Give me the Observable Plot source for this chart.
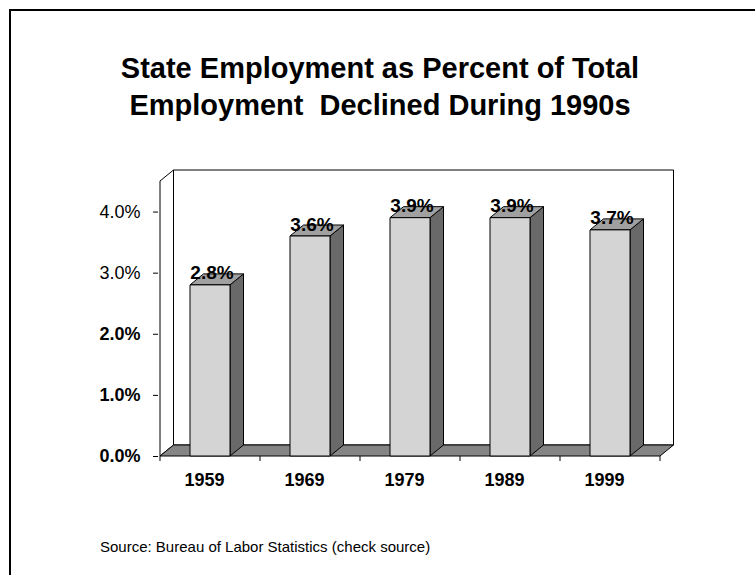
<!DOCTYPE html>
<html>
<head>
<meta charset="utf-8">
<script src="https://cdn.jsdelivr.net/npm/d3@7"></script>
<script src="https://cdn.jsdelivr.net/npm/@observablehq/plot@0.6"></script>
<style>
  html, body { margin: 0; padding: 0; background: #fff; }
  #wrap { position: relative; width: 755px; height: 575px; overflow: hidden; font-family: "Liberation Sans", Arial, sans-serif; }
  #wrap svg { position: absolute; left: 0; top: 0; }
  #frame { position: absolute; left: 9px; top: 9px; width: 800px; height: 600px; border-left: 2px solid #000; border-top: 2px solid #000; }
  #title { position: absolute; left: 0; top: 50px; width: 760px; text-align: center; font-weight: bold; font-size: 29px; line-height: 36.5px; white-space: pre; color: #000; }
  #source { position: absolute; left: 100px; top: 538px; font-size: 15px; line-height: 18px; color: #000; white-space: pre; }
</style>
</head>
<body>
<div id="wrap"></div>
<script>
// ---- data ----
const years = ["1959", "1969", "1979", "1989", "1999"];
const shares = [2.8, 3.6, 3.9, 3.9, 3.7];
const barLabels = ["2.8%", "3.6%", "3.9%", "3.9%", "3.7%"];
const yTicksNormal = [3, 4];
const yTicksBold = [0, 1, 2];
const yMax = 4.5;
const titleLines = ["State Employment as Percent of Total", "Employment  Declined During 1990s"];
const sourceText = "Source: Bureau of Labor Statistics (check source)";

const data = years.map((year, i) => ({year, share: shares[i], label: barLabels[i]}));

// ---- style constants ----
const DX = 13.5, DY = 11;          // 3D depth offset in px
const BAR_W = 40;
const FRONT = "#d4d4d4", SIDE = "#696969", TOP = "#a0a0a0", FLOOR = "#858585";

function poly(g, pts, fill) {
  g.append("polygon")
    .attr("points", pts.map(p => p.join(",")).join(" "))
    .attr("fill", fill).attr("stroke", "#000").attr("stroke-width", 1)
    .attr("stroke-linejoin", "round");
}

// back walls, floor and x ticks
function walls(index, scales) {
  const x = scales.x, y = scales.y;
  const bw = x.bandwidth();
  const x0 = x(years[0]), x1 = x(years[years.length - 1]) + bw;
  const y0 = y(0), yt = y(yMax);
  const g = d3.create("svg:g");
  poly(g, [[x0 + DX, yt - DY], [x1 + DX, yt - DY], [x1 + DX, y0 - DY], [x0 + DX, y0 - DY]], "#fff");
  poly(g, [[x0, y0], [x0, yt], [x0 + DX, yt - DY], [x0 + DX, y0 - DY]], "#fff");
  poly(g, [[x0, y0], [x1, y0], [x1 + DX, y0 - DY], [x0 + DX, y0 - DY]], FLOOR);
  const bounds = years.map(d => x(d)).concat([x1]);
  for (const b of bounds) {
    g.append("line").attr("x1", b).attr("x2", b).attr("y1", y0).attr("y2", y0 + 5)
      .attr("stroke", "#000");
  }
  return g.node();
}

// 3D bars
function bars(index, scales) {
  const x = scales.x, y = scales.y;
  const bw = x.bandwidth();
  const y0 = y(0);
  const g = d3.create("svg:g");
  for (const d of data) {
    const l = x(d.year) + (bw - BAR_W) / 2, r = l + BAR_W;
    const yv = y(d.share);
    poly(g, [[r, y0], [r + DX, y0 - DY], [r + DX, yv - DY], [r, yv]], SIDE);
    poly(g, [[l, yv], [l + DX, yv - DY], [r + DX, yv - DY], [r, yv]], TOP);
    poly(g, [[l, yv], [r, yv], [r, y0], [l, y0]], FRONT);
  }
  return g.node();
}

const fmt = d => d.toFixed(1) + "%";

const chart = Plot.plot({
  width: 755,
  height: 575,
  marginLeft: 158,
  marginRight: 93,
  marginTop: 181,
  marginBottom: 119,
  x: {type: "band", domain: years, padding: 0, axis: null},
  y: {domain: [0, yMax], axis: null},
  style: {fontFamily: "'Liberation Sans', Arial, sans-serif", background: "transparent", color: "#000"},
  marks: [
    walls,
    bars,
    Plot.axisY(yTicksNormal, {label: null, tickSize: 5, tickPadding: 13, tickFormat: fmt, fontSize: 18, fontWeight: "normal", stroke: "#000", fill: "#000"}),
    Plot.axisY(yTicksBold, {label: null, tickSize: 5, tickPadding: 13, tickFormat: fmt, fontSize: 18, fontWeight: "bold", stroke: "#000", fill: "#000"}),
    Plot.axisX(years, {label: null, tickSize: 0, tickPadding: 17, dx: -6, fontSize: 18, fontWeight: "bold", fill: "#000"}),
    Plot.text(data, {x: "year", y: "share", text: "label", lineAnchor: "bottom", dy: -6, dx: 1.5, fontSize: 19, fontWeight: "bold", fill: "#000"})
  ]
});

const wrap = document.getElementById("wrap");
wrap.appendChild(chart);
const frame = document.createElement("div");
frame.id = "frame";
wrap.appendChild(frame);
const title = document.createElement("div");
title.id = "title";
title.textContent = titleLines.join("\n");
wrap.appendChild(title);
const src = document.createElement("div");
src.id = "source";
src.textContent = sourceText;
wrap.appendChild(src);
</script>
</body>
</html>
